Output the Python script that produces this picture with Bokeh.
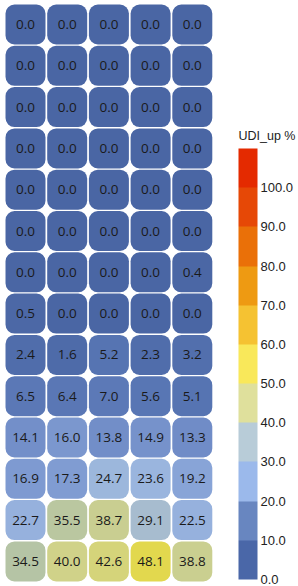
from bokeh.plotting import figure
from bokeh.models import ColumnDataSource, LinearColorMapper, ColorBar, FixedTicker, PrintfTickFormatter, Range1d, Label
from bokeh.core.properties import value
from bokeh.embed import file_html
from bokeh.resources import INLINE

# ---- data (rows top to bottom, 5 columns each) ----
n_cols = 5
row_values = [
    [0.0, 0.0, 0.0, 0.0, 0.0],
    [0.0, 0.0, 0.0, 0.0, 0.0],
    [0.0, 0.0, 0.0, 0.0, 0.0],
    [0.0, 0.0, 0.0, 0.0, 0.0],
    [0.0, 0.0, 0.0, 0.0, 0.0],
    [0.0, 0.0, 0.0, 0.0, 0.0],
    [0.0, 0.0, 0.0, 0.0, 0.4],
    [0.5, 0.0, 0.0, 0.0, 0.0],
    [2.4, 1.6, 5.2, 2.3, 3.2],
    [6.5, 6.4, 7.0, 5.6, 5.1],
    [14.1, 16.0, 13.8, 14.9, 13.3],
    [16.9, 17.3, 24.7, 23.6, 19.2],
    [22.7, 35.5, 38.7, 29.1, 22.5],
    [34.5, 40.0, 42.6, 48.1, 38.8],
]
bar_colors = ["#4a67a8", "#6886c0", "#9bb9eb", "#b8ccd8", "#dfe09c", "#f9e85a",
              "#f5c232", "#ee9a12", "#ea7008", "#e64806", "#e42a00"]
bar_ticks = [0, 10, 20, 30, 40, 50, 60, 70, 80, 90, 100]
bar_low, bar_high = 0, 110
title_text = "UDI_up %"

# ---- continuous palette for the cells (style) ----
anchors = [
    (0, (74, 102, 164)), (5, (86, 116, 178)), (10, (100, 128, 190)), (15, (118, 146, 203)),
    (20, (140, 168, 218)), (24, (155, 182, 222)), (29, (167, 188, 208)), (34.5, (180, 196, 166)),
    (40, (208, 210, 138)), (43, (214, 212, 120)), (48, (226, 216, 78)), (55, (249, 230, 90)),
    (65, (245, 194, 50)), (75, (238, 154, 18)), (85, (234, 112, 8)), (95, (230, 72, 6)),
    (110, (228, 42, 0)),
]
N = 440
palette = []
for i in range(N):
    v = bar_low + (bar_high - bar_low) * (i + 0.5) / N
    for (a, ca), (b, cb) in zip(anchors[:-1], anchors[1:]):
        if a <= v <= b:
            t = (v - a) / (b - a)
            c = tuple(int(round(ca[k] + t * (cb[k] - ca[k]))) for k in range(3))
            palette.append("#%02x%02x%02x" % c)
            break

n_rows = len(row_values)
xs, ys, vals, labels = [], [], [], []
for r, row in enumerate(row_values):
    for c, v in enumerate(row):
        xs.append(c + 0.5)
        ys.append(n_rows - r - 0.5)
        vals.append(v)
        labels.append(f"{v:.1f}")
src = ColumnDataSource(dict(x=xs, y=ys, v=vals, label=labels))

W, H = 298, 586
pitch_x, pitch_y = 41.7, 41.3
cw, ch = 40.0 / pitch_x, 40.0 / pitch_y
x0 = 0.5 - cw / 2 - 5 / pitch_x
y1 = n_rows - 0.5 + ch / 2 + 4 / pitch_y
p = figure(width=W, height=H, output_backend="svg", toolbar_location=None,
           x_range=Range1d(x0, x0 + W / pitch_x), y_range=Range1d(y1 - H / pitch_y, y1),
           min_border=0, min_border_left=0, min_border_right=0, min_border_top=0, min_border_bottom=0)
p.axis.visible = False
p.grid.visible = False
p.outline_line_color = None

cell_mapper = LinearColorMapper(palette=palette, low=bar_low, high=bar_high)
p.rect(x="x", y="y", width=cw, height=ch, source=src,
       fill_color={"field": "v", "transform": cell_mapper}, line_color=None,
       border_radius=9)
p.text(x="x", y="y", text="label", source=src, text_align="center", text_baseline="middle",
       text_font=value("Open Sans"), text_font_size="13.5px", text_color="#1a1a1a")

bar_mapper = LinearColorMapper(palette=bar_colors, low=bar_low, high=bar_high)
cb = ColorBar(color_mapper=bar_mapper, ticker=FixedTicker(ticks=bar_ticks),
              formatter=PrintfTickFormatter(format="%.1f"),
              width=19, height=431, location=(238, 7), padding=0,
              major_label_text_font="Liberation Sans", major_label_text_font_size="13px",
              major_label_text_color="#222222", label_standoff=3,
              major_tick_line_color=None, minor_tick_line_color=None, bar_line_color=None,
              background_fill_color=None, border_line_color=None)
p.add_layout(cb, "center")

title = Label(x=238, y=451, x_units="screen", y_units="screen", text=title_text,
              text_font="Liberation Sans", text_font_size="12.5px", text_color="#222222",
              text_baseline="middle", text_align="left")
p.add_layout(title)

open("out.html", "w").write(file_html(p, INLINE))
